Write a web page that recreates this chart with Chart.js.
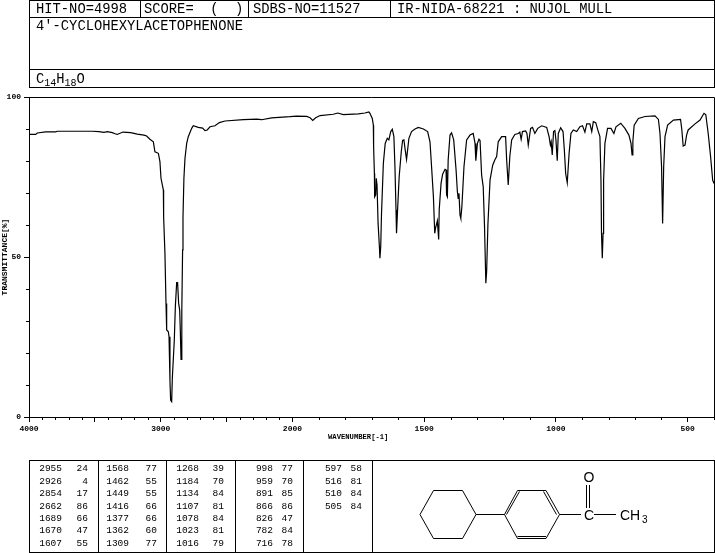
<!DOCTYPE html>
<html>
<head>
<meta charset="utf-8">
<title>4'-CYCLOHEXYLACETOPHENONE</title>
<script src="https://cdn.jsdelivr.net/npm/chart.js@4"></script>
<style>
  html, body { margin: 0; padding: 0; background: #fff; }
  #page { position: relative; width: 715px; height: 553px; overflow: hidden; color: #000; }
  #page canvas { position: absolute; left: 0; top: 0; }
  .line { position: absolute; background: #000; }
  .txt { position: absolute; font-family: "Liberation Mono", monospace; font-size: 13.8px; line-height: 14px; white-space: pre; }
  .txt sub { font-size: 10px; line-height: 0; vertical-align: -3px; }
  .num { position: absolute; font-family: "Liberation Mono", monospace; font-size: 9.5px; line-height: 12px; text-align: right; white-space: pre; }
  .axis { position: absolute; font-family: "Liberation Mono", monospace; font-weight: bold; font-size: 7.2px; line-height: 8px; white-space: pre; }
  svg { position: absolute; left: 0; top: 0; }
</style>
</head>
<body>
<div id="page">
  <canvas id="irChart" width="715" height="553"></canvas>

  <div class="txt" style="left:36px;top:3px">HIT-NO=4998</div>
  <div class="txt" style="left:144px;top:3px">SCORE=  (  )</div>
  <div class="txt" style="left:253px;top:3px">SDBS-NO=11527</div>
  <div class="txt" style="left:397px;top:3px">IR-NIDA-68221 : NUJOL MULL</div>
  <div class="txt" style="left:36px;top:20px">4'-CYCLOHEXYLACETOPHENONE</div>
  <div class="txt" style="left:36px;top:73px">C<sub>14</sub>H<sub>18</sub>O</div>
  <div class="axis" style="left:328px;top:433px">WAVENUMBER[-1]</div>

  <svg id="molecule" width="715" height="553" fill="none" stroke="#000" stroke-width="1">
    <polygon points="420,514.5 433.5,490.5 462.5,490.5 476,514.5 462.5,538.5 433.5,538.5"/>
    <polygon points="504.5,514.5 517.5,490.5 546,490.5 559.5,514.5 546,538.5 517.5,538.5"/>
    <line x1="476" y1="514.5" x2="504.5" y2="514.5"/>
    <line x1="506.5" y1="514.5" x2="519.5" y2="491.5"/>
    <line x1="543.5" y1="491.5" x2="556.5" y2="514.5"/>
    <line x1="517.5" y1="536.5" x2="546" y2="536.5"/>
    <line x1="559.5" y1="514.5" x2="581" y2="514.5"/>
    <line x1="594" y1="514.5" x2="616" y2="514.5"/>
    <line x1="586.5" y1="485" x2="586.5" y2="508"/>
    <line x1="589.5" y1="485" x2="589.5" y2="508"/>
    <g fill="#000" stroke="none" font-family="Liberation Sans" font-size="14">
      <text x="589" y="519.5" text-anchor="middle">C</text>
      <text x="589" y="481.5" text-anchor="middle">O</text>
      <text x="620" y="519.5">CH</text>
      <text x="642" y="523" font-size="10">3</text>
    </g>
  </svg>
</div>

<script>
// spectrum
const wavenumbers = [
    4000, 3949, 3937, 3874, 3798, 3785, 3519, 3469, 3431, 3405, 3368, 3347, 3330, 3287, 3228, 3178, 3127, 3107, 3082, 3056,
    3044, 3018, 3006, 2998, 2980, 2978, 2968, 2960, 2955, 2942, 2937, 2930, 2925, 2917, 2912, 2897, 2889, 2879, 2872, 2864,
    2856, 2851, 2846, 2841, 2839, 2834, 2831, 2824, 2816, 2803, 2791, 2765, 2753, 2715, 2682, 2664, 2647, 2626, 2588, 2555,
    2512, 2373, 2272, 2234, 2158, 2019, 1984, 1946, 1933, 1923, 1912, 1895, 1845, 1828, 1807, 1788, 1750, 1725, 1710, 1706,
    1697, 1693, 1692, 1689, 1688, 1684, 1682, 1679, 1675, 1670, 1668, 1665, 1662, 1655, 1648, 1640, 1634, 1627, 1621, 1615,
    1611, 1607, 1605, 1601, 1595, 1587, 1582, 1577, 1572, 1567, 1563, 1558, 1548, 1535, 1522, 1503, 1487, 1478, 1472, 1465,
    1460, 1457, 1450, 1445, 1443, 1436, 1430, 1421, 1417, 1415, 1412, 1409, 1402, 1396, 1388, 1379, 1374, 1371, 1368, 1364,
    1361, 1357, 1349, 1339, 1326, 1314, 1307, 1304, 1298, 1292, 1288, 1282, 1276, 1271, 1267, 1266, 1263, 1258, 1250, 1240,
    1232, 1225, 1219, 1206, 1191, 1187, 1181, 1175, 1168, 1156, 1143, 1137, 1132, 1127, 1115, 1110, 1105, 1096, 1089, 1080,
    1069, 1054, 1035, 1026, 1021, 1018, 1014, 1009, 1004, 1000, 995, 991, 982, 973, 968, 963, 957, 950, 943, 934,
    921, 909, 899, 890, 883, 871, 864, 858, 849, 839, 833, 829, 827, 824, 821, 819, 814, 804, 791, 780,
    772, 754, 738, 723, 715, 711, 708, 703, 687, 662, 624, 611, 605, 599, 595, 591, 586, 576, 554, 527,
    522, 517, 510, 504, 498, 472, 453, 438, 431, 422, 413, 405, 400
];
const transmittance = [
    88.3, 88.3, 88.75, 89.1, 89.1, 89.3, 89.3, 89.2, 88.95, 89.15, 88.85, 88.5, 88.3, 89.05, 88.85, 88.4, 88.1, 87.8, 86.8, 86,
    82.9, 82.4, 79.8, 74.6, 70.9, 62.6, 51.1, 35.5, 27.2, 26.6, 25.1, 11.5, 5.3, 4.8, 12.1, 24, 34.5, 42, 42, 35.5,
    33.4, 26.6, 18, 18, 33.4, 52.2, 62.6, 74.6, 80.8, 85.5, 87.6, 90.2, 91, 90.5, 90.3, 89.5, 89.7, 90.7, 91, 92,
    92.5, 92.9, 93.1, 92.9, 93.5, 93.85, 94.05, 93.95, 93.5, 92.7, 93.5, 94.2, 94.6, 95, 94.5, 94.6, 94.7, 95, 95.3, 94.9,
    93.3, 91.2, 84.5, 76.1, 68.8, 69.4, 74.6, 72.5, 60.5, 53.2, 49.6, 53.2, 63.6, 79.3, 85.5, 87.1, 86.6, 89.2, 89.9, 87.6,
    78.2, 64.7, 57.4, 64.7, 75.1, 82.9, 86.4, 86.6, 83.4, 80.5, 83.4, 87.1, 89.2, 90, 90.5, 90, 89.2, 86, 78.2, 68.8,
    57.4, 59, 61.3, 55.5, 64.7, 73, 75.9, 77.4, 77.2, 69.4, 68.8, 80.3, 88.1, 88.8, 86.6, 77.2, 70.4, 68.3, 69.9, 63.1,
    62.1, 65.7, 78.2, 86.6, 88.1, 88.6, 85.5, 80.1, 85.5, 86.8, 86.4, 75.6, 72, 59.5, 45.4, 41.8, 45.4, 60.5, 74.1, 78.7,
    80.3, 81.4, 86, 87.6, 87.6, 80.3, 72.5, 81.4, 86.6, 88.3, 88.6, 89, 86.8, 89.2, 89.4, 88.6, 85, 90.2, 90.5, 88.6,
    90.2, 91, 90.5, 87.6, 85, 86, 81.9, 89.2, 89.5, 86.6, 80.1, 88.6, 90.4, 89.2, 83.4, 76.1, 73.2, 82.4, 88.6, 89.7,
    89.2, 90.7, 91, 89, 91.6, 91.6, 89.2, 92.3, 92, 89.2, 87.6, 74, 57.4, 49.6, 57.4, 74, 85.5, 90.2, 90.2, 88.6,
    90.7, 91.8, 90.2, 88.1, 85.5, 81.9, 86, 91.2, 93.3, 93.9, 94.1, 93, 88.6, 78.2, 60.5, 78.2, 87.6, 91.2, 92.8, 93,
    89.7, 84.7, 85, 88.1, 89.7, 91.6, 92.8, 94.9, 94.4, 88.6, 81.4, 74, 73
];

// x axis ticks
const xMajorTicks = [4000, 3500, 3000, 2500, 2000, 1500, 1000, 500];
const xTickLabels = ['4000', '', '3000', '', '2000', '1500', '1000', '500'];
const xMinorTicks = [
    3900, 3800, 3700, 3600, 3400, 3300, 3200, 3100, 2900, 2800, 2700, 2600, 2400, 2300, 2200, 2100,
    1900, 1800, 1700, 1600, 1400, 1300, 1200, 1100, 900, 800, 700, 600, 400
];

// y axis ticks
const yMajorTicks = [0, 50, 100];
const yMinorTicks = [10, 20, 30, 40, 60, 70, 80, 90];

// peak table, 7 rows per column
const peakWavenumbers = [
    2955, 2926, 2854, 2662, 1689, 1670, 1607,
    1568, 1462, 1449, 1416, 1377, 1362, 1309,
    1268, 1184, 1134, 1107, 1078, 1023, 1016,
    998, 959, 891, 866, 826, 782, 716,
    597, 516, 510, 505
];
const peakValues = [
    24, 4, 17, 86, 66, 47, 55,
    77, 55, 55, 66, 66, 60, 77,
    39, 70, 84, 81, 84, 81, 79,
    77, 70, 85, 86, 47, 84, 78,
    58, 81, 84, 84
];

// the axis is compressed by 2 above 2000 cm-1
function toAxis(wn) {
    return wn >= 2000 ? (4000 - wn) / 2 : 1000 + (2000 - wn);
}

const page = document.getElementById('page');

function addLine(x, y, w, h) {
    const el = document.createElement('div');
    el.className = 'line';
    el.style.cssText = `left:${x}px;top:${y}px;width:${w}px;height:${h}px`;
    page.appendChild(el);
}

// header boxes
addLine(29, 0, 686, 1);
addLine(29, 17, 686, 1);
addLine(29, 69, 686, 1);
addLine(29, 87, 686, 1);
addLine(29, 0, 1, 88);
addLine(714, 0, 1, 88);
addLine(140, 0, 1, 18);
addLine(248, 0, 1, 18);
addLine(390, 0, 1, 18);

// peak table boxes
addLine(29, 460, 686, 1);
addLine(29, 552, 686, 1);
[29, 98, 166, 235, 303, 372, 714].forEach(x => addLine(x, 460, 1, 93));

const wnRight = [62, 129, 199, 273, 342];
const valRight = [88, 157, 224, 293, 362];
const rowY = [463, 475.5, 488, 500.5, 513, 525, 537.5];

function addNum(text, right, y) {
    const el = document.createElement('div');
    el.className = 'num';
    el.textContent = text;
    el.style.right = (715 - right) + 'px';
    el.style.top = y + 'px';
    page.appendChild(el);
}

peakWavenumbers.forEach((wn, i) => {
    const col = Math.floor(i / 7);
    addNum(String(wn), wnRight[col], rowY[i % 7]);
    addNum(String(peakValues[i]), valRight[col], rowY[i % 7]);
});

// short ticks and the box round the plot
const plotFrame = {
    id: 'plotFrame',
    afterDraw(chart) {
        const { ctx, chartArea, scales } = chart;
        ctx.save();
        ctx.strokeStyle = '#000';
        ctx.lineWidth = 1;
        ctx.beginPath();
        ctx.moveTo(chartArea.left, chartArea.top + 0.5);
        ctx.lineTo(chartArea.right + 0.5, chartArea.top + 0.5);
        ctx.lineTo(chartArea.right + 0.5, chartArea.bottom);
        xMinorTicks.forEach(wn => {
            const px = Math.round(scales.x.getPixelForValue(toAxis(wn))) + 0.5;
            ctx.moveTo(px, chartArea.bottom);
            ctx.lineTo(px, chartArea.bottom + 3);
        });
        yMinorTicks.forEach(v => {
            const py = Math.round(scales.y.getPixelForValue(v)) + 0.5;
            ctx.moveTo(chartArea.left, py);
            ctx.lineTo(chartArea.left - 3, py);
        });
        ctx.stroke();
        ctx.restore();
    }
};

const axisFont = { family: 'Liberation Mono', size: 8, weight: 'bold' };

new Chart(document.getElementById('irChart').getContext('2d'), {
    type: 'line',
    data: {
        datasets: [{
            data: wavenumbers.map((wn, i) => ({ x: toAxis(wn), y: transmittance[i] })),
            borderColor: '#000',
            borderWidth: 1.2,
            pointRadius: 0,
            tension: 0,
            fill: false
        }]
    },
    options: {
        responsive: false,
        animation: false,
        layout: { padding: { left: 0, top: 97, right: 1, bottom: 108 } },
        plugins: { legend: { display: false }, tooltip: { enabled: false } },
        scales: {
            x: {
                type: 'linear',
                min: 0,
                max: 2600,
                afterBuildTicks: scale => { scale.ticks = xMajorTicks.map(wn => ({ value: toAxis(wn) })); },
                afterFit: scale => { scale.height = 28; },
                border: { color: '#000', width: 1 },
                grid: { drawOnChartArea: false, tickColor: '#000', tickLength: 5 },
                ticks: {
                    color: '#000',
                    font: axisFont,
                    padding: 2,
                    autoSkip: false,
                    maxRotation: 0,
                    callback: (value, i) => xTickLabels[i]
                }
            },
            y: {
                min: 0,
                max: 100,
                afterBuildTicks: scale => { scale.ticks = yMajorTicks.map(v => ({ value: v })); },
                afterFit: scale => { scale.width = 29; },
                border: { color: '#000', width: 1 },
                grid: { drawOnChartArea: false, tickColor: '#000', tickLength: 5 },
                ticks: { color: '#000', font: axisFont, padding: 3 },
                title: {
                    display: true,
                    text: 'TRANSMITTANCE[%]',
                    color: '#000',
                    font: { family: 'Liberation Mono', size: 8, weight: 'bold' },
                    padding: 0
                }
            }
        }
    },
    plugins: [plotFrame]
});
</script>
</body>
</html>
